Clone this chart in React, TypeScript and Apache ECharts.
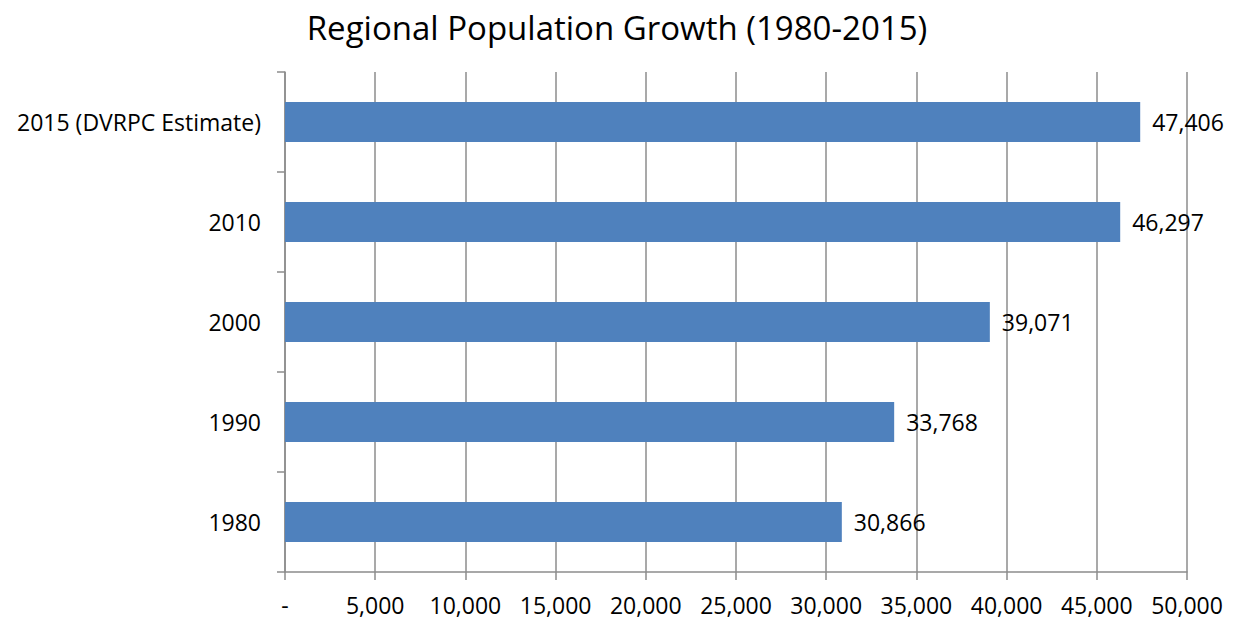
import React, { useEffect, useRef } from "react";
import * as echarts from "echarts";

const categories = ["1980", "1990", "2000", "2010", "2015 (DVRPC Estimate)"];
const populations = [30866, 33768, 39071, 46297, 47406];
const titleText = "Regional Population Growth (1980-2015)";
const FONT = "'Open Sans', 'Noto Sans', sans-serif";

export default function App() {
  const ref = useRef<HTMLDivElement>(null);
  useEffect(() => {
    if (!ref.current) return;
    const chart = echarts.init(ref.current, undefined, { renderer: "svg" });
    chart.setOption({
      animation: false,
      backgroundColor: "#ffffff",
      title: {
        text: titleText,
        left: "center",
        top: 6,
        textStyle: { fontFamily: FONT, fontSize: 33, fontWeight: "normal", color: "#000" },
      },
      grid: { left: 285, right: 47, top: 72, bottom: 48, containLabel: false },
      xAxis: {
        type: "value",
        min: 0,
        max: 50000,
        interval: 5000,
        axisLine: { show: true, lineStyle: { color: "#8c8c8c", width: 1.5 } },
        axisTick: { show: true, length: 8, lineStyle: { color: "#8c8c8c", width: 1.5 } },
        splitLine: { show: true, lineStyle: { color: "#8c8c8c", width: 1.5 } },
        axisLabel: {
          margin: 21,
          fontFamily: FONT,
          fontSize: 23,
          color: "#000",
          formatter: (v: number) => (v === 0 ? "-" : v.toLocaleString("en-US")),
        },
      },
      yAxis: {
        type: "category",
        data: categories,
        axisLine: { show: true, lineStyle: { color: "#8c8c8c", width: 1.5 } },
        axisTick: { show: true, length: 8, lineStyle: { color: "#8c8c8c", width: 1.5 } },
        axisLabel: { margin: 24, fontFamily: FONT, fontSize: 23, color: "#000" },
      },
      series: [
        {
          type: "bar",
          data: populations,
          barWidth: 40,
          itemStyle: { color: "#4F81BD" },
          label: {
            show: true,
            position: "right",
            distance: 12,
            fontFamily: FONT,
            fontSize: 23,
            color: "#000",
            formatter: (p: any) => Number(p.value).toLocaleString("en-US"),
          },
        },
      ],
    });
    return () => chart.dispose();
  }, []);
  return <div ref={ref} style={{ width: 1234, height: 620, position: "absolute", left: 0, top: 0 }} />;
}
